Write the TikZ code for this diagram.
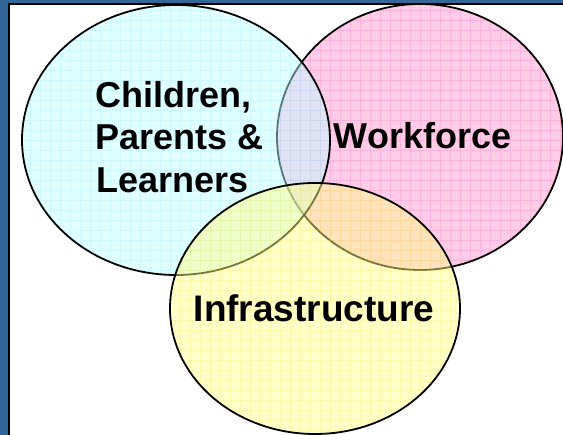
\documentclass[tikz,border=0pt]{standalone}
\usepackage{fontspec}
\setmainfont{Liberation Sans}
\definecolor{frameblue}{RGB}{51,102,153}
\definecolor{cyanfill}{RGB}{190,255,255}
\definecolor{cyangrid}{RGB}{110,230,255}
\definecolor{pinkfill}{RGB}{255,145,205}
\definecolor{pinkgrid}{RGB}{255,70,170}
\definecolor{yellowfill}{RGB}{255,255,140}
\definecolor{yellowgrid}{RGB}{255,230,40}
\tikzset{
  blobfill/.style={fill=#1, fill opacity=0.45},
  blobgrid/.style={draw=#1, draw opacity=0.2, line width=0.6pt},
  bloboutline/.style={draw=black, line width=1.8pt},
  label/.style={inner sep=0pt, font=\bfseries\fontsize{36}{42}\selectfont},
}
\begin{document}
\begin{tikzpicture}[x=1pt,y=-1pt]
\useasboundingbox (0,0) rectangle (563,435);
\fill[white] (0,0) rectangle (563,435);
% frame
\fill[frameblue] (0,0) rectangle (8,435);
\fill[frameblue] (0,0) rectangle (563,3.5);
\draw[black, line width=2pt] (9,435) -- (9,4.5) -- (563,4.5);
% pink (Workforce)
\begin{scope}
  \clip (420,137) ellipse [x radius=143pt, y radius=133pt];
  \fill[blobfill=pinkfill] (270,0) rectangle (570,280);
  \draw[blobgrid=pinkgrid, step=10pt] (270,0) grid (570,280);
\end{scope}
\draw[bloboutline] (420,137) ellipse [x radius=143pt, y radius=133pt];
% cyan (Children)
\begin{scope}
  \clip (176,140) ellipse [x radius=154pt, y radius=135pt];
  \fill[blobfill=cyanfill] (20,0) rectangle (340,280);
  \draw[blobgrid=cyangrid, step=10pt] (20,0) grid (340,280);
\end{scope}
\draw[bloboutline] (176,140) ellipse [x radius=154pt, y radius=135pt];
% yellow (Infrastructure)
\begin{scope}
  \clip (315,308.5) ellipse [x radius=145pt, y radius=125.5pt];
  \fill[blobfill=yellowfill] (160,180) rectangle (470,440);
  \draw[blobgrid=yellowgrid, step=10pt] (160,180) grid (470,440);
\end{scope}
\draw[bloboutline] (315,308.5) ellipse [x radius=145pt, y radius=125.5pt];
% labels
\node[label, anchor=base west] (children) at (95,108) {Children,};
\node[label, anchor=base west] (parents) at (95,150) {Parents \&};
\node[label, anchor=base west] (learners) at (96,193) {Learners};
\node[label, anchor=base] (workforce) at (422.5,149) {Workforce};
\node[label, anchor=base, font=\bfseries\fontsize{37}{42}\selectfont] (infra) at (314,322) {Infrastructure};
\end{tikzpicture}
\end{document}
